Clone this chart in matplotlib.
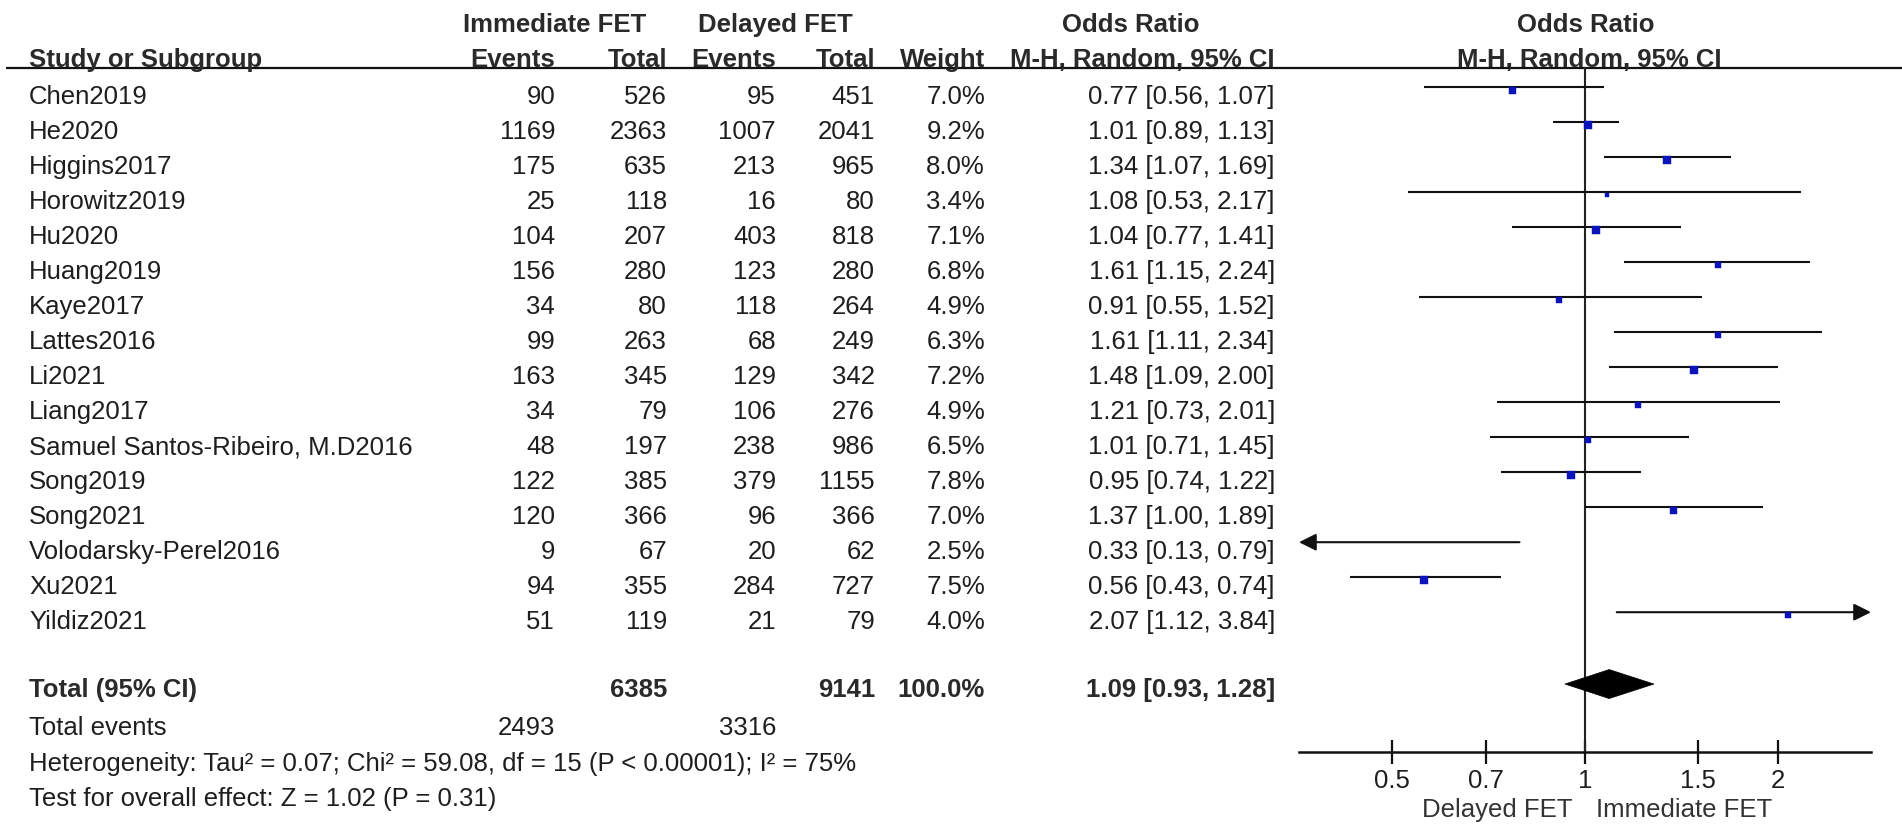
import numpy as np
import matplotlib
matplotlib.use("Agg")
import matplotlib.pyplot as plt
from matplotlib.ticker import FixedLocator, FixedFormatter, NullLocator
from matplotlib.patches import Polygon

plt.rcParams['font.family'] = ['Liberation Sans', 'DejaVu Sans']

# ---------------- data ----------------
studies = ["Chen2019", "He2020", "Higgins2017", "Horowitz2019", "Hu2020", "Huang2019",
           "Kaye2017", "Lattes2016", "Li2021", "Liang2017", "Samuel Santos-Ribeiro, M.D2016",
           "Song2019", "Song2021", "Volodarsky-Perel2016", "Xu2021", "Yildiz2021"]
imm_events = [90, 1169, 175, 25, 104, 156, 34, 99, 163, 34, 48, 122, 120, 9, 94, 51]
imm_total = [526, 2363, 635, 118, 207, 280, 80, 263, 345, 79, 197, 385, 366, 67, 355, 119]
del_events = [95, 1007, 213, 16, 403, 123, 118, 68, 129, 106, 238, 379, 96, 20, 284, 21]
del_total = [451, 2041, 965, 80, 818, 280, 264, 249, 342, 276, 986, 1155, 366, 62, 727, 79]
weights = [7.0, 9.2, 8.0, 3.4, 7.1, 6.8, 4.9, 6.3, 7.2, 4.9, 6.5, 7.8, 7.0, 2.5, 7.5, 4.0]
or_est = [0.77, 1.01, 1.34, 1.08, 1.04, 1.61, 0.91, 1.61, 1.48, 1.21, 1.01, 0.95, 1.37, 0.33, 0.56, 2.07]
or_lo = [0.56, 0.89, 1.07, 0.53, 0.77, 1.15, 0.55, 1.11, 1.09, 0.73, 0.71, 0.74, 1.00, 0.13, 0.43, 1.12]
or_hi = [1.07, 1.13, 1.69, 2.17, 1.41, 2.24, 1.52, 2.34, 2.00, 2.01, 1.45, 1.22, 1.89, 0.79, 0.74, 3.84]

total_imm_n = 6385
total_del_n = 9141
total_weight = 100.0
total_or = (1.09, 0.93, 1.28)
total_imm_events = 2493
total_del_events = 3316
heterogeneity = "Heterogeneity: Tau\u00b2 = 0.07; Chi\u00b2 = 59.08, df = 15 (P < 0.00001); I\u00b2 = 75%"
overall = "Test for overall effect: Z = 1.02 (P = 0.31)"
ticks = [0.5, 0.7, 1, 1.5, 2]
tick_labels = ["0.5", "0.7", "1", "1.5", "2"]
left_label = "Delayed FET"
right_label = "Immediate FET"

# ---------------- layout ----------------
W, H, DPI = 1902, 833, 100
ROW_PX = 35.0
ROW0_PX = 97.0


def r(px):
    return (px - ROW0_PX) / ROW_PX


FS = 18.5
TXT = '#1e1e1e'
HDR = '#2a2a2a'
BLUE = '#0a14b8'

fig = plt.figure(figsize=(W / DPI, H / DPI), dpi=DPI)
fig.patch.set_facecolor('white')

tax = fig.add_axes([0, 0, 1, 1])
tax.set_xlim(0, W)
tax.set_ylim(r(H), r(0))
tax.axis('off')

x_name = 29
x_ie, x_it, x_de, x_dt, x_w, x_or = 555, 667, 776, 875, 985, 1275

# headers
y_h1, y_h2 = r(25), r(60)
tax.text(555, y_h1, "Immediate FET", ha='center', va='center', fontsize=FS, fontweight='bold', color=HDR)
tax.text(775, y_h1, "Delayed FET", ha='center', va='center', fontsize=FS, fontweight='bold', color=HDR)
tax.text(1131, y_h1, "Odds Ratio", ha='center', va='center', fontsize=FS, fontweight='bold', color=HDR)
tax.text(1586, y_h1, "Odds Ratio", ha='center', va='center', fontsize=FS, fontweight='bold', color=HDR)
tax.text(x_name, y_h2, "Study or Subgroup", ha='left', va='center', fontsize=FS, fontweight='bold', color=HDR)
for x, s in [(x_ie, "Events"), (x_it, "Total"), (x_de, "Events"), (x_dt, "Total"), (x_w, "Weight")]:
    tax.text(x, y_h2, s, ha='right', va='center', fontsize=FS, fontweight='bold', color=HDR)
tax.text(1142, y_h2, "M-H, Random, 95% CI", ha='center', va='center', fontsize=FS, fontweight='bold', color=HDR)
tax.text(1589, y_h2, "M-H, Random, 95% CI", ha='center', va='center', fontsize=FS, fontweight='bold', color=HDR)

y_line = r(68)
tax.plot([6, W], [y_line, y_line], color='#111111', lw=1.6, solid_capstyle='butt')

# study rows
n = len(studies)
rows = np.arange(n)
for i in range(n):
    tax.text(x_name, rows[i], studies[i], ha='left', va='center', fontsize=FS, color=TXT)
    tax.text(x_ie, rows[i], str(imm_events[i]), ha='right', va='center', fontsize=FS, color=TXT)
    tax.text(x_it, rows[i], str(imm_total[i]), ha='right', va='center', fontsize=FS, color=TXT)
    tax.text(x_de, rows[i], str(del_events[i]), ha='right', va='center', fontsize=FS, color=TXT)
    tax.text(x_dt, rows[i], str(del_total[i]), ha='right', va='center', fontsize=FS, color=TXT)
    tax.text(x_w, rows[i], f"{weights[i]:.1f}%", ha='right', va='center', fontsize=FS, color=TXT)
    tax.text(x_or, rows[i], f"{or_est[i]:.2f} [{or_lo[i]:.2f}, {or_hi[i]:.2f}]",
             ha='right', va='center', fontsize=FS, color=TXT)

# totals
y_tot = r(690)
tax.text(x_name, y_tot, "Total (95% CI)", ha='left', va='center', fontsize=FS, fontweight='bold', color=HDR)
tax.text(x_it, y_tot, str(total_imm_n), ha='right', va='center', fontsize=FS, fontweight='bold', color=HDR)
tax.text(x_dt, y_tot, str(total_del_n), ha='right', va='center', fontsize=FS, fontweight='bold', color=HDR)
tax.text(x_w, y_tot, f"{total_weight:.1f}%", ha='right', va='center', fontsize=FS, fontweight='bold', color=HDR)
tax.text(x_or, y_tot, f"{total_or[0]:.2f} [{total_or[1]:.2f}, {total_or[2]:.2f}]",
         ha='right', va='center', fontsize=FS, fontweight='bold', color=HDR)

y_ev = r(728)
tax.text(x_name, y_ev, "Total events", ha='left', va='center', fontsize=FS, color=TXT)
tax.text(x_ie, y_ev, str(total_imm_events), ha='right', va='center', fontsize=FS, color=TXT)
tax.text(x_de, y_ev, str(total_del_events), ha='right', va='center', fontsize=FS, color=TXT)
tax.text(x_name, r(764), heterogeneity, ha='left', va='center', fontsize=FS, color=TXT)
tax.text(x_name, r(799), overall, ha='left', va='center', fontsize=FS, color=TXT)

# ---------------- forest panel ----------------
ax_l, ax_r = 1299, 1871
fax = fig.add_axes([ax_l / W, 0, (ax_r - ax_l) / W, 1])
fax.set_facecolor('none')
fax.set_xscale('log')
xmin, xmax = 0.358, 2.79
fax.set_xlim(xmin, xmax)
fax.set_ylim(r(H), r(0))
for s in ['top', 'left', 'right']:
    fax.spines[s].set_visible(False)
y_axis = r(752)
fax.spines['bottom'].set_position(('data', y_axis))
fax.spines['bottom'].set_linewidth(1.8)
fax.spines['bottom'].set_color('#111111')
fax.xaxis.set_major_locator(FixedLocator(ticks))
fax.xaxis.set_major_formatter(FixedFormatter(tick_labels))
fax.xaxis.set_minor_locator(NullLocator())
fax.tick_params(axis='x', direction='inout', length=17, width=1.6, color='#111111',
                labelsize=FS, labelcolor=TXT, pad=4)
fax.set_yticks([])

# line of no effect
fax.plot([1, 1], [y_line, y_axis], color='#222222', lw=1.5)

OFF = 0.28
for i in range(n):
    y = rows[i] - OFF
    lo, hi = or_lo[i], or_hi[i]
    lo_c, hi_c = max(lo, xmin), min(hi, xmax)
    if lo < xmin:
        fax.annotate('', xy=(xmin, y), xytext=(hi_c, y),
                     arrowprops=dict(arrowstyle='-|>', lw=1.5, color='#111111',
                                     mutation_scale=26, shrinkA=0, shrinkB=0))
    elif hi > xmax:
        fax.annotate('', xy=(xmax, y), xytext=(lo_c, y),
                     arrowprops=dict(arrowstyle='-|>', lw=1.5, color='#111111',
                                     mutation_scale=26, shrinkA=0, shrinkB=0))
    else:
        fax.plot([lo, hi], [y, y], color='#111111', lw=1.5, solid_capstyle='butt')
    side_px = 7.0 * np.sqrt(weights[i] / 7.0)
    fax.plot([or_est[i]], [y + 0.07], marker='s', linestyle='none',
             markersize=side_px * 72 / DPI, markerfacecolor=BLUE, markeredgecolor=BLUE,
             markeredgewidth=0.3, zorder=5)

# diamond
yc = y_tot - 0.17
hh = 14.5 / ROW_PX
est, lo, hi = total_or
fax.add_patch(Polygon([[lo, yc], [est, yc - hh], [hi, yc], [est, yc + hh]],
                      closed=True, facecolor='black', edgecolor='black', lw=0.5, zorder=5))

# direction labels
y_dir = r(810)
tax.text(1572, y_dir, left_label, ha='right', va='center', fontsize=FS, color='#333333')
tax.text(1596, y_dir, right_label, ha='left', va='center', fontsize=FS, color='#333333')

fig.savefig('out.png', dpi=DPI, facecolor='white')
